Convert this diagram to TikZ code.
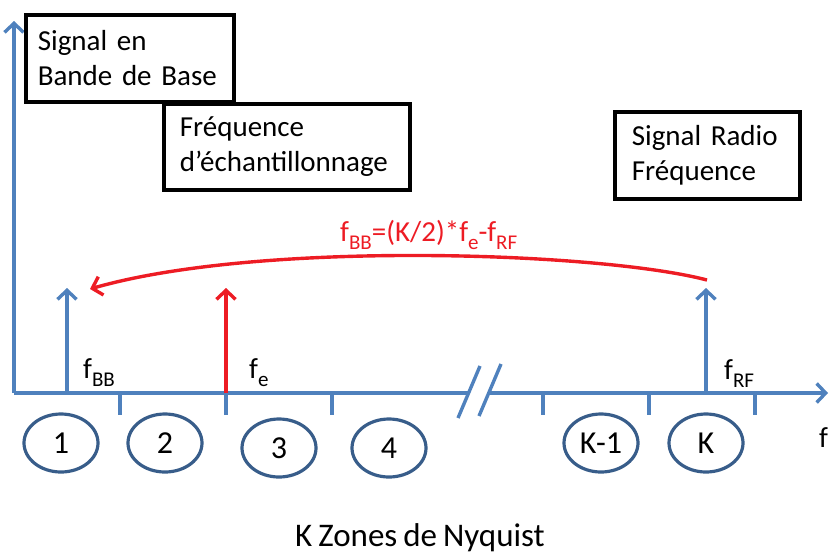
\documentclass[tikz,border=0pt]{standalone}
\usepackage{fontspec}
\setmainfont{Carlito}[WordSpace=0.8]
\usetikzlibrary{arrows.meta,shapes.geometric}
\definecolor{axisblue}{RGB}{79,129,189}
\definecolor{zoneblue}{RGB}{56,93,138}
\definecolor{alertred}{RGB}{237,28,36}
\newcommand\sbx[1]{\raisebox{-0.3em}{\fontsize{21}{21}\selectfont #1}}
\tikzset{
  axisline/.style={draw=axisblue, line width=3.4pt},
  arrowtip/.style={-{Straight Barb[length=9pt,width=19pt,line width=3.4pt]}},
  tickmark/.style={draw=axisblue, line width=3.4pt},
  infobox/.style={draw=black, line width=3.6pt, anchor=north west, align=left,
    font=\fontsize{29}{35}\selectfont},
  zone/.style={ellipse, draw=zoneblue, line width=3.2pt, minimum width=74pt,
    minimum height=58pt, inner sep=0pt, font=\fontsize{32}{36}\selectfont},
  freqlabel/.style={anchor=base west, inner sep=0pt, font=\fontsize{29}{34}\selectfont},
}
\begin{document}
\begin{tikzpicture}[x=1pt,y=-1pt]
\useasboundingbox (0,0) rectangle (829,555);

% axes
\coordinate (O) at (14,393);
\coordinate (ytop) at (14,21);
\coordinate (xbreakL) at (469,393);
\coordinate (xbreakR) at (490,393);
\coordinate (xend) at (828,393);
\draw[axisline, arrowtip] (O) -- (ytop);
\draw[axisline] (O) -- (xbreakL);
\draw[axisline, arrowtip] (xbreakR) -- (xend);

% axis break marks
\coordinate (s1a) at (458,418); \coordinate (s1b) at (480,366);
\coordinate (s2a) at (479,416); \coordinate (s2b) at (501,364);
\draw[axisline] (s1a) -- (s1b);
\draw[axisline] (s2a) -- (s2b);

% zone boundaries
\foreach \x [count=\i] in {120,226,332,543,649,755}{
  \coordinate (tk\i) at (\x,393);
  \coordinate (tb\i) at (\x,415);
  \draw[tickmark] (tk\i) -- (tb\i);
}

% spectral lines
\coordinate (bb0) at (67,393);  \coordinate (bb1) at (67,288);
\coordinate (fe0) at (226,393); \coordinate (fe1) at (226,288);
\coordinate (rf0) at (706,393); \coordinate (rf1) at (706,288);
\draw[axisline, arrowtip] (bb0) -- (bb1);
\draw[draw=alertred, line width=3.4pt, arrowtip] (fe0) -- (fe1);
\draw[axisline, arrowtip] (rf0) -- (rf1);

% frequency labels
\node[freqlabel] (lbb) at (83,378) {f\sbx{BB}};
\node[freqlabel] (lfe) at (249,378) {f\sbx{e}};
\node[freqlabel] (lrf) at (724,379) {f\sbx{RF}};
\node[freqlabel] (lf) at (819,447) {f};

% folding relation
\coordinate (cstart) at (707,280);
\coordinate (cend) at (90,289);
\draw[draw=alertred, line width=3.4pt, arrowtip]
  (cstart) .. controls (600,252) and (260,240) .. (cend);
\node[freqlabel, text=alertred] (formula) at (340,241)
  {f\sbx{BB}=(K/2)*f\sbx{e}-f\sbx{RF}};

% Nyquist zones
\node[zone] (z1) at (61,443) {1};
\node[zone] (z2) at (165,443) {2};
\node[zone] (z3) at (279,448) {3};
\node[zone] (z4) at (389,448) {4};
\node[zone] (zk1) at (601,443) {K-1};
\node[zone] (zk) at (706,443) {K};

% captions
\node[infobox, minimum width=208pt, minimum height=87pt, text width=184pt, inner xsep=12pt]
  (bbox) at (24,13) {Signal en\\Bande de Base};
\node[infobox, minimum width=246pt, minimum height=86pt, text width=214pt, inner xsep=16pt]
  (febox) at (162,102) {Fréquence\\d’échantillonnage};
\node[infobox, minimum width=185pt, minimum height=87pt, text width=151pt, inner xsep=17pt]
  (rfbox) at (613,110) {Signal Radio\\Fréquence};

\node[anchor=base, inner sep=0pt, font=\fontsize{33}{38}\selectfont] (title) at (420,546)
  {K Zones de Nyquist};
\end{tikzpicture}
\end{document}
